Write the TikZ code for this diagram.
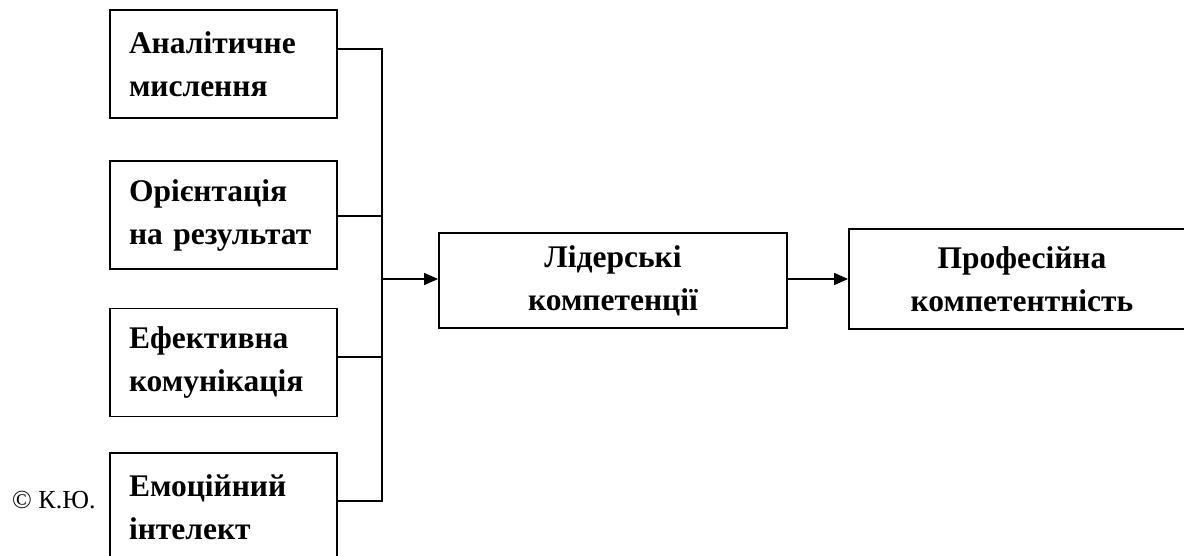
\documentclass[tikz,border=0pt]{standalone}
\usepackage{fontspec}
\setmainfont{Liberation Serif}
\usetikzlibrary{arrows.meta}
\begin{document}
\begin{tikzpicture}[x=1pt,y=-1pt,
  lbox/.style={draw, line width=1.9pt, rectangle, minimum width=227pt, minimum height=108pt,
    text width=189pt, inner xsep=19pt, align=left,
    font=\fontsize{31.5}{43}\selectfont\bfseries},
  cbox/.style={draw, line width=1.9pt, rectangle, minimum width=348pt, minimum height=95pt,
    align=center, font=\fontsize{31.5}{43}\selectfont\bfseries},
  conn/.style={line width=1.4pt},
  arr/.style={line width=1.4pt, -{Triangle[length=14pt,width=12pt]}}]
\clip (0,0) rectangle (1184,556);
\fill[white] (0,0) rectangle (1184,556);
\node[lbox] (b1) at (223.5,64) {Аналітичне\\мислення};
\node[lbox] (b2) at (223.5,215) {Орієнтація\\на результат};
\node[lbox] (b3) at (223.5,362.5) {Ефективна\\комунікація};
\node[lbox] (b4) at (223.5,507) {Емоційний\\інтелект};
\node[cbox] (lid) at (613,280.5) {Лідерські\\компетенції};
\node[cbox, minimum width=346pt, minimum height=100pt] (prof) at (1022,279) {Професійна\\компетентність};
\node[font=\fontsize{26}{30}\selectfont, anchor=base west, inner sep=0pt] (copy) at (12,508) {© К.Ю.};
\coordinate (bus1) at (382,49);
\coordinate (bus2) at (382,216);
\coordinate (bus3) at (382,357);
\coordinate (bus4) at (382,501);
\coordinate (busm) at (382,279);
\draw[conn] (b1.east |- bus1) -- (bus1) -- (bus4) -- (b4.east |- bus4);
\draw[conn] (b2.east |- bus2) -- (bus2);
\draw[conn] (b3.east |- bus3) -- (bus3);
\draw[arr] (busm) -- (lid.west |- busm);
\draw[arr] (lid.east |- busm) -- (prof.west |- busm);
\end{tikzpicture}
\end{document}
